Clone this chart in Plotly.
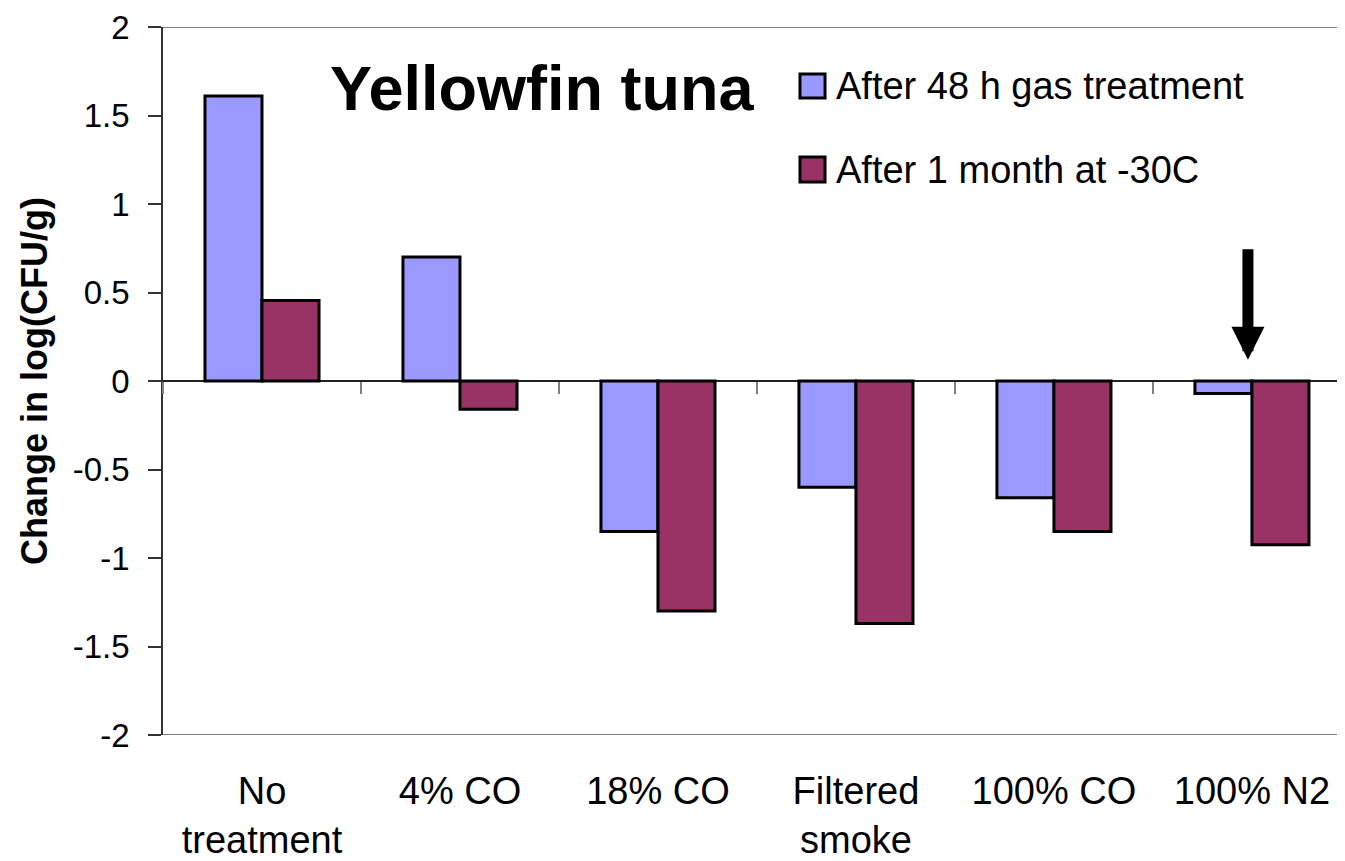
import plotly.graph_objects as go

# Data
categories = ["No<br>treatment", "4% CO", "18% CO", "Filtered<br>smoke", "100% CO", "100% N2"]
after_48h = [1.61, 0.70, -0.85, -0.60, -0.66, -0.07]
after_1month = [0.455, -0.16, -1.30, -1.37, -0.85, -0.925]
series_names = ["After 48 h gas treatment", "After 1 month at -30C"]
series_colors = ["#9999FF", "#993366"]
y_ticks = [2, 1.5, 1, 0.5, 0, -0.5, -1, -1.5, -2]

FONT = "Arial, Liberation Sans, sans-serif"

fig = go.Figure()
for name, vals, col in zip(series_names, [after_48h, after_1month], series_colors):
    fig.add_trace(go.Bar(
        x=categories, y=vals, name=name,
        marker=dict(color=col, line=dict(color="black", width=3)),
        showlegend=False,
    ))

# invisible helper trace so the overlaid axis (tick marks on the zero line) has categories
fig.add_trace(go.Scatter(x=categories, y=[None] * len(categories), xaxis="x2",
                         mode="none", showlegend=False, hoverinfo="skip"))

x_range = [-0.5, 5.47]

# page body has an 8px margin, so the figure is a bit smaller than the window
fig.update_layout(
    width=1337, height=853,
    margin=dict(l=155, r=0, t=19, b=126),
    plot_bgcolor="white", paper_bgcolor="white",
    barmode="group", bargap=0.424, bargroupgap=0,
    font=dict(family=FONT, color="black"),
    xaxis=dict(
        type="category", categoryarray=categories, range=x_range,
        showline=False, showgrid=False, zeroline=False, ticks="",
        tickfont=dict(size=38, color="black"), ticklabelstandoff=30,
    ),
    xaxis2=dict(
        type="category", categoryarray=categories, range=x_range,
        overlaying="x", anchor="free", position=0.5, side="bottom",
        showline=False, showgrid=False, zeroline=False,
        ticks="outside", tickson="boundaries", ticklen=12, tickwidth=1.5,
        tickcolor="#808080", showticklabels=False,
    ),
    yaxis=dict(
        range=[-2, 2], tickvals=y_ticks, ticktext=[f"{v:g}" for v in y_ticks],
        showgrid=False, zeroline=True, zerolinecolor="#222222", zerolinewidth=1.5,
        showline=True, linecolor="#333333", linewidth=1.5,
        ticks="outside", ticklen=13, tickwidth=1.5, tickcolor="#333333",
        tickfont=dict(size=33, color="black"), ticklabelstandoff=12,
        title=dict(text="<b>Change in log(CFU/g)</b>", font=dict(size=36, color="black"),
                   standoff=14),
    ),
)

# top and bottom border lines of the plot area
for yv in (2, -2):
    fig.add_shape(type="line", xref="paper", x0=0, x1=1, yref="y", y0=yv, y1=yv,
                  line=dict(color="#808080", width=2), layer="below")

# legend drawn as boxes + text
legend_y = [(0.8997, 0.9336), (0.781, 0.8164)]
for (y0, y1), name, col in zip(legend_y, series_names, series_colors):
    fig.add_shape(type="rect", xref="paper", yref="paper", x0=0.5389, x1=0.5601, y0=y0, y1=y1,
                  fillcolor=col, line=dict(color="black", width=3))
    fig.add_annotation(text=name, xref="paper", yref="paper", x=0.568, y=(y0 + y1) / 2,
                       xanchor="left", yanchor="middle", showarrow=False,
                       font=dict(size=38, family=FONT, color="black"))

# chart title
fig.add_annotation(text="<b>Yellowfin tuna</b>", xref="paper", yref="paper", x=0.3207, y=0.914,
                   xanchor="center", yanchor="middle", showarrow=False,
                   font=dict(size=63, family=FONT, color="black"))

# arrow pointing at the 100% N2 group
fig.add_annotation(x=categories[5], y=0.12, xref="x", yref="y", ax=0, ay=-112,
                   showarrow=True, arrowhead=2, arrowsize=0.6, arrowwidth=11,
                   arrowcolor="black", text="", xshift=-4)

fig.write_html("out.html")
